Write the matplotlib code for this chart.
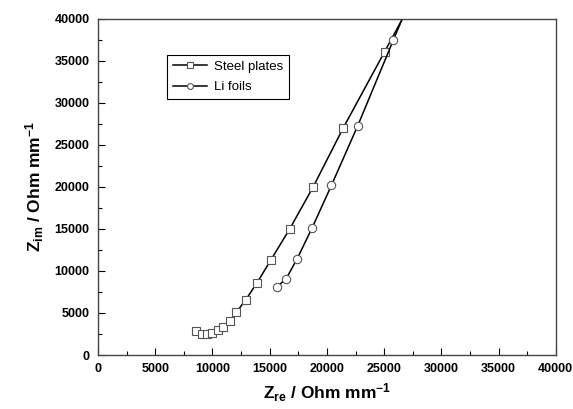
import matplotlib
matplotlib.use('Agg')
import matplotlib.pyplot as plt
from matplotlib.ticker import MultipleLocator

plt.rcParams['font.family'] = ['Liberation Sans', 'DejaVu Sans']
plt.rcParams['mathtext.fontset'] = 'custom'
plt.rcParams['mathtext.rm'] = 'Liberation Sans:bold'
plt.rcParams['mathtext.it'] = 'Liberation Sans:bold'
plt.rcParams['mathtext.bf'] = 'Liberation Sans:bold'

# Steel plates (Z_re, Z_im) in Ohm mm^-1
steel_re = [8550, 9050, 9500, 10000, 10450, 10950, 11500, 12100, 12900,
            13900, 15100, 16750, 18800, 21400, 25050, 28000]
steel_im = [2800, 2550, 2550, 2650, 2950, 3350, 4050, 5100, 6550,
            8600, 11300, 15000, 20000, 26950, 36100, 43500]

# Li foils
li_re = [15600, 16450, 17400, 18700, 20400, 22700, 25800, 27500]
li_im = [8050, 9100, 11450, 15100, 20200, 27300, 37450, 43000]

fig = plt.figure(figsize=(5.73, 4.09), dpi=100)
ax = fig.add_axes([0.171, 0.132, 0.799, 0.822])

mstyle = dict(color='black', linewidth=1.1, markersize=6,
              markerfacecolor='white', markeredgecolor='#555555',
              markeredgewidth=0.8)
ax.plot(steel_re, steel_im, marker='s', label='Steel plates', **mstyle)
ax.plot(li_re, li_im, marker='o', label='Li foils', **mstyle)

ax.set_xlim(0, 40000)
ax.set_ylim(0, 40000)
ax.xaxis.set_major_locator(MultipleLocator(5000))
ax.xaxis.set_minor_locator(MultipleLocator(2500))
ax.yaxis.set_major_locator(MultipleLocator(5000))
ax.yaxis.set_minor_locator(MultipleLocator(2500))
ax.tick_params(which='both', direction='in', top=False, right=False)
ax.tick_params(which='major', length=5, width=0.8, labelsize=9, pad=6)
ax.tick_params(which='minor', length=3, width=0.8)
for lab in ax.get_xticklabels() + ax.get_yticklabels():
    lab.set_fontweight('bold')
for sp in ax.spines.values():
    sp.set_color('#444444')
    sp.set_linewidth(1.0)

ax.set_xlabel(r'Z$_{\mathrm{re}}$ / Ohm mm$^{\mathrm{-1}}$', fontsize=12.5,
              fontweight='bold', labelpad=4)
ax.set_ylabel(r'Z$_{\mathrm{im}}$ / Ohm mm$^{\mathrm{-1}}$', fontsize=12.5,
              fontweight='bold', labelpad=6)

leg = ax.legend(loc='upper left', bbox_to_anchor=(0.291, 0.866),
                bbox_transform=fig.transFigure, borderaxespad=0,
                fancybox=False, edgecolor='black', fontsize=9.5,
                markerscale=0.7, handlelength=2.6, labelspacing=0.6,
                handletextpad=0.5, borderpad=0.45, framealpha=1)
leg.get_frame().set_linewidth(0.8)

fig.savefig('out.png', dpi=100, facecolor='white')
